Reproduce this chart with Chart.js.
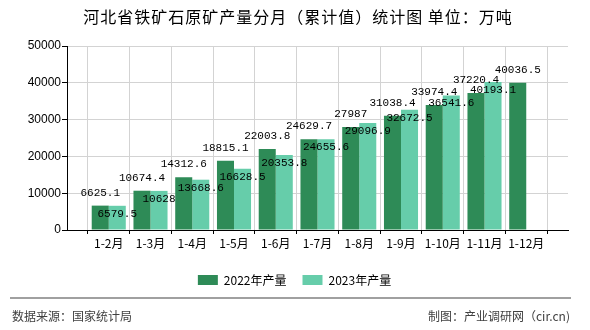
<!DOCTYPE html>
<html>
<head>
<meta charset="utf-8">
<script src="https://cdn.jsdelivr.net/npm/chart.js@4.4.1/dist/chart.umd.min.js"></script>
<style>
  html, body { margin: 0; padding: 0; background: #fff; }
</style>
</head>
<body>
<canvas id="chart" width="590" height="330"></canvas>
<script>
// chart data
const chartTitle = '河北省铁矿石原矿产量分月（累计值）统计图 单位：万吨';
const months = ['1-2月', '1-3月', '1-4月', '1-5月', '1-6月', '1-7月', '1-8月', '1-9月', '1-10月', '1-11月', '1-12月'];
const output2022 = [6625.1, 10674.4, 14312.6, 18815.1, 22003.8, 24629.7, 27987, 31038.4, 33974.4, 37220.4, 40036.5];
const output2023 = [6579.5, 10628, 13668.6, 16628.5, 20353.8, 24655.6, 29096.9, 32672.5, 36541.6, 40193.1, null];
const yTicks = [0, 10000, 20000, 30000, 40000, 50000];
const seriesNames = ['2022年产量', '2023年产量'];
const sourceText = '数据来源：国家统计局';
const creditText = '制图：产业调研网（cir.cn)';

const cjk = '"Noto Sans CJK SC", sans-serif';

// empty slot on each side so the grid has a line at both ends
const labels = ['', ...months, ''];
const pad = arr => [null, ...arr, null];

const barLabels = {
    id: 'barLabels',
    afterDatasetsDraw(chart) {
        const ctx = chart.ctx;
        ctx.save();
        ctx.font = '11px "Liberation Mono", monospace';
        ctx.fillStyle = '#000';
        ctx.textAlign = 'center';
        ctx.textBaseline = 'middle';
        chart.data.datasets.forEach((ds, i) => {
            chart.getDatasetMeta(i).data.forEach((bar, j) => {
                const v = ds.data[j];
                if (v == null) return;
                const y = i === 0 ? bar.y - 13 : bar.y + 8;
                ctx.fillText(String(v), bar.x, y);
            });
        });
        ctx.restore();
    }
};

const frame = {
    id: 'frame',
    afterDraw(chart) {
        const ctx = chart.ctx;
        ctx.save();
        ctx.fillStyle = '#000';
        ctx.textBaseline = 'middle';
        ctx.textAlign = 'center';
        ctx.font = '16px ' + cjk;
        ctx.letterSpacing = '1px';
        ctx.fillText(chartTitle, 298, 17);
        ctx.letterSpacing = '0px';

        ctx.strokeStyle = '#808080';
        ctx.lineWidth = 1.5;
        ctx.beginPath();
        ctx.moveTo(10, 298);
        ctx.lineTo(571, 298);
        ctx.stroke();

        ctx.fillStyle = '#404040';
        ctx.font = '12px ' + cjk;
        ctx.textAlign = 'left';
        ctx.fillText(sourceText, 12, 316);
        ctx.textAlign = 'right';
        ctx.fillText(creditText, 570, 316);
        ctx.restore();
    }
};

new Chart(document.getElementById('chart').getContext('2d'), {
    type: 'bar',
    data: {
        labels: labels,
        datasets: [{
            label: seriesNames[0],
            data: pad(output2022),
            backgroundColor: '#2e8b57',
            borderWidth: 0
        }, {
            label: seriesNames[1],
            data: pad(output2023),
            backgroundColor: '#66cdaa',
            borderWidth: 0
        }]
    },
    options: {
        responsive: false,
        animation: false,
        devicePixelRatio: 1,
        categoryPercentage: 0.816,
        barPercentage: 1,
        layout: { padding: { top: 46, left: 21, right: 22, bottom: 34 } },
        plugins: {
            title: { display: false },
            tooltip: { enabled: false },
            legend: {
                position: 'bottom',
                labels: {
                    boxWidth: 20,
                    boxHeight: 10,
                    padding: 16,
                    color: '#000',
                    font: { size: 12, family: cjk }
                }
            }
        },
        scales: {
            x: {
                offset: false,
                afterFit: s => { s.height = 28; },
                grid: { color: '#d3d3d3', tickColor: '#000', tickLength: 4 },
                border: { color: '#000', width: 1 },
                ticks: {
                    autoSkip: false,
                    maxRotation: 0,
                    padding: 2,
                    color: '#000',
                    font: { size: 12, family: cjk }
                }
            },
            y: {
                min: 0,
                max: 50000,
                afterFit: s => { s.width = 46; },
                afterBuildTicks: s => { s.ticks = yTicks.map(v => ({ value: v })); },
                grid: { color: '#d3d3d3', tickColor: '#000', tickLength: 5 },
                border: { color: '#000', width: 1 },
                ticks: {
                    padding: 1,
                    color: '#000',
                    font: { size: 12, family: '"Liberation Sans", Arial, sans-serif' },
                    callback: v => String(v)
                }
            }
        }
    },
    plugins: [barLabels, frame]
});
</script>
</body>
</html>
